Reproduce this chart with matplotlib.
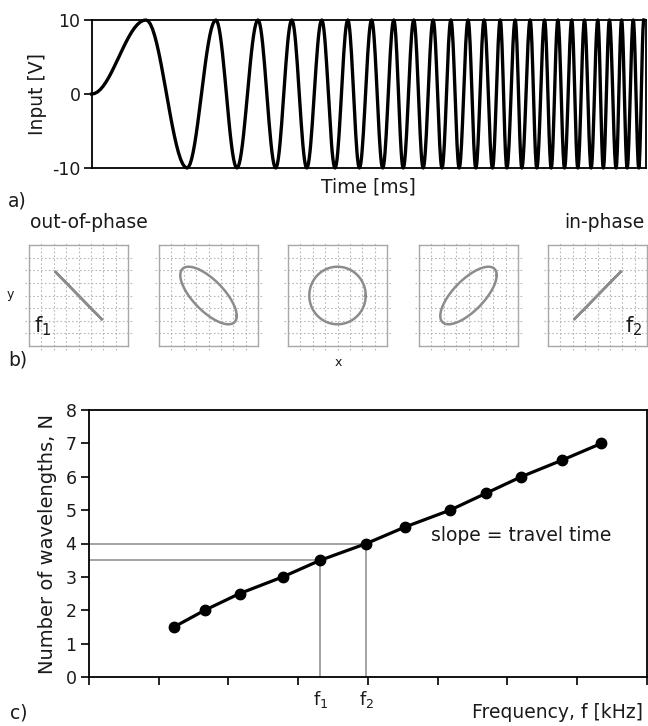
import numpy as np
import matplotlib
matplotlib.use('Agg')
import matplotlib.pyplot as plt

plt.rcParams['font.family'] = ['DejaVu Sans']
plt.rcParams['mathtext.default'] = 'regular'

# ---------------- data ----------------
# Panel a: extrema of the swept-sine input (time in ms, voltage in V)
sweep_times = [0.00, 0.98, 1.72, 2.24, 2.62, 3.00, 3.32, 3.61, 3.88, 4.15,
               4.39, 4.62, 4.83, 5.05, 5.25, 5.45, 5.62, 5.81, 5.98, 6.16,
               6.32, 6.48, 6.63, 6.79, 6.93, 7.08, 7.23, 7.37, 7.49, 7.64,
               7.76, 7.91, 8.03, 8.17, 8.29, 8.41, 8.53, 8.66, 8.77, 8.89,
               9.01, 9.13, 9.23, 9.34, 9.46, 9.56, 9.66, 9.77, 9.87, 9.96]
sweep_volts = [0, 10, -10, 10, -10, 10, -10, 10, -10, 10,
               -10, 10, -10, 10, -10, 10, -10, 10, -10, 10,
               -10, 10, -10, 10, -10, 10, -10, 10, -10, 10,
               -10, 10, -10, 10, -10, 10, -10, 10, -10, 10,
               -10, 10, -10, 10, -10, 10, -10, 10, -10, 10]
input_yticks = [10, 0, -10]

# Panel b: Lissajous figures (phase difference in degrees, relative amplitude)
liss_phase = [180, 135, 90, 45, 0]
liss_amp = [0.47, 0.57, 0.57, 0.57, 0.47]

# Panel c: number of wavelengths vs frequency
freq = [1.22, 1.66, 2.16, 2.78, 3.32, 3.98, 4.54, 5.18, 5.69, 6.20, 6.79, 7.35]
n_wave = [1.5, 2.0, 2.5, 3.0, 3.5, 4.0, 4.5, 5.0, 5.5, 6.0, 6.5, 7.0]
f1_idx, f2_idx = 4, 5
c_xticks = [0, 1, 2, 3, 4, 5, 6, 7, 8]
c_yticks = [0, 1, 2, 3, 4, 5, 6, 7, 8]

# ---------------- figure ----------------
W, H = 648, 726
fig = plt.figure(figsize=(W / 100, H / 100), dpi=100)

def fx(px):
    return px / W

def fy(py):
    return 1 - py / H

TXT = '#1a1a1a'
FS = 13.5

# ---- Panel a ----
axa = fig.add_axes([fx(91.7), fy(168), fx(646) - fx(91.7), fy(20) - fy(168)])
xs, ys = [], []
for i in range(len(sweep_times) - 1):
    t0, t1 = sweep_times[i], sweep_times[i + 1]
    v0, v1 = sweep_volts[i], sweep_volts[i + 1]
    s = np.linspace(0, 1, 20)
    xs.append(t0 + (t1 - t0) * s)
    ys.append((v0 + v1) / 2 + (v0 - v1) / 2 * np.cos(np.pi * s))
axa.plot(np.concatenate(xs), np.concatenate(ys), color='black', lw=2.4,
         clip_on=False, solid_joinstyle='round')
axa.set_xlim(0, 10)
axa.set_ylim(-10, 10)
axa.set_yticks(input_yticks)
axa.set_yticklabels([str(v) for v in input_yticks], fontsize=12.5, color=TXT)
axa.set_xticks([])
axa.tick_params(axis='y', length=6, width=1.2, pad=2)
for sp in axa.spines.values():
    sp.set_linewidth(1.3)
axa.set_ylabel('Input [V]', fontsize=FS, color=TXT, labelpad=4)
axa.set_xlabel('Time [ms]', fontsize=FS, color=TXT, labelpad=7)

fig.text(fx(8), fy(201), 'a)', fontsize=FS, color=TXT, va='center', ha='left')

# ---- Panel b ----
box_left = [29, 159, 288, 419, 548]
box_w, box_top, box_bot = 99, 245, 346
grid_pos = [-0.75, -0.5, -0.25, 0, 0.25, 0.5, 0.75]
t = np.linspace(0, 2 * np.pi, 300)
for k in range(5):
    ax = fig.add_axes([fx(box_left[k]), fy(box_bot), fx(box_w), fy(box_top) - fy(box_bot)])
    ax.set_xlim(-1, 1)
    ax.set_ylim(-1, 1)
    ax.set_xticks([])
    ax.set_yticks([])
    for sp in ax.spines.values():
        sp.set_color('#a8a8a8')
        sp.set_linewidth(1.0)
    for g in grid_pos:
        ax.plot([g, g], [-1.08, 1.08], color='#b8b8b8', lw=0.8, ls=(0, (1.5, 2)), clip_on=False)
        ax.plot([-1.08, 1.08], [g, g], color='#b8b8b8', lw=0.8, ls=(0, (1.5, 2)), clip_on=False)
    A = liss_amp[k]
    ph = np.deg2rad(liss_phase[k])
    ax.plot(A * np.cos(t), A * np.cos(t - ph), color='#8c8c8c', lw=1.8)
    if k == 0:
        ax.text(0.05, 0.08, r'f$_1$', transform=ax.transAxes, fontsize=15, color=TXT,
                ha='left', va='bottom')
    if k == 4:
        ax.text(0.95, 0.08, r'f$_2$', transform=ax.transAxes, fontsize=15, color=TXT,
                ha='right', va='bottom')

fig.text(fx(30), fy(222), 'out-of-phase', fontsize=FS, color=TXT, ha='left', va='center')
fig.text(fx(645), fy(222), 'in-phase', fontsize=FS, color=TXT, ha='right', va='center')
fig.text(fx(10), fy(295), 'y', fontsize=9, color=TXT, ha='center', va='center')
fig.text(fx(338), fy(363), 'x', fontsize=9, color=TXT, ha='center', va='center')
fig.text(fx(8), fy(360), 'b)', fontsize=FS, color=TXT, va='center', ha='left')

# ---- Panel c ----
axc = fig.add_axes([fx(89), fy(677), fx(646.7) - fx(89), fy(410) - fy(677)])
f1, f2 = freq[f1_idx], freq[f2_idx]
n1, n2 = n_wave[f1_idx], n_wave[f2_idx]
gc = '#8a8a8a'
axc.plot([0, f2], [n2, n2], color=gc, lw=1.1, zorder=1)
axc.plot([0, f1], [n1, n1], color=gc, lw=1.1, zorder=1)
axc.plot([f1, f1], [0, n1], color=gc, lw=1.1, zorder=1)
axc.plot([f2, f2], [0, n2], color=gc, lw=1.1, zorder=1)
axc.plot(freq, n_wave, color='black', lw=2.3, marker='o', markersize=7.5, zorder=3)
axc.set_xlim(c_xticks[0], c_xticks[-1])
axc.set_ylim(c_yticks[0], c_yticks[-1])
axc.set_xticks(c_xticks)
axc.set_xticklabels([''] * len(c_xticks))
axc.set_yticks(c_yticks)
axc.set_yticklabels([str(v) for v in c_yticks], fontsize=12.5, color=TXT)
axc.tick_params(axis='both', length=6, width=1.2, pad=3)
for sp in axc.spines.values():
    sp.set_linewidth(1.3)
axc.set_ylabel('Number of wavelengths, N', fontsize=14, color=TXT, labelpad=6)
axc.text(f1, -0.35, r'f$_1$', fontsize=13, color=TXT, ha='center', va='top')
axc.text(f2, -0.35, r'f$_2$', fontsize=13, color=TXT, ha='center', va='top')
axc.text(4.9, 4.23, 'slope = travel time', fontsize=FS, color=TXT, ha='left', va='center')

fig.text(fx(643), fy(712), 'Frequency, f [kHz]', fontsize=FS, color=TXT, ha='right', va='center')
fig.text(fx(10), fy(713), 'c)', fontsize=FS, color=TXT, va='center', ha='left')

fig.savefig('out.png', dpi=100)
